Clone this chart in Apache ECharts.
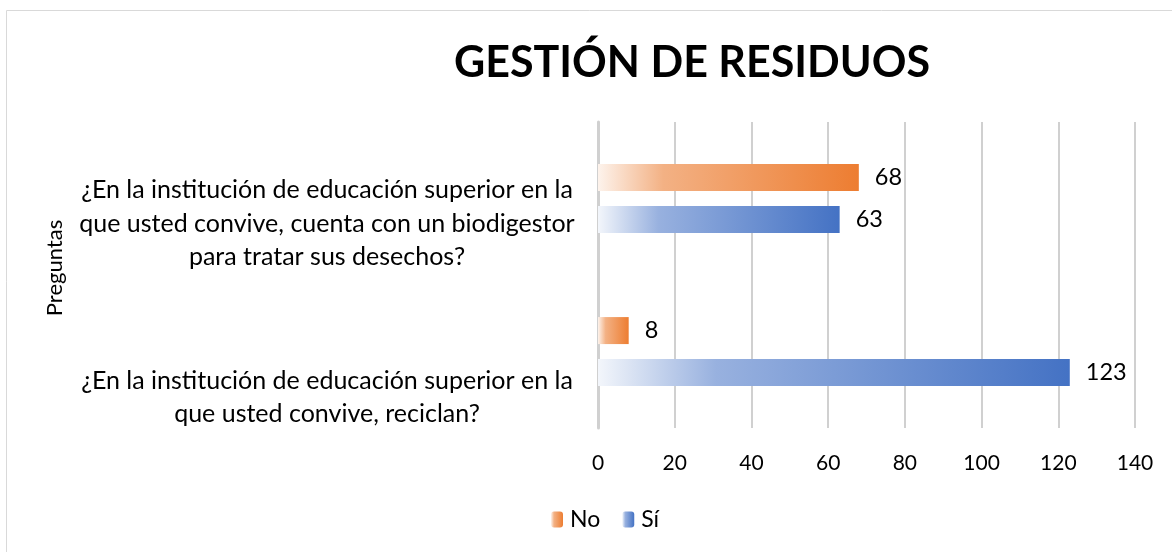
<!DOCTYPE html>
<html><head><meta charset="utf-8">
<script src="https://cdn.jsdelivr.net/npm/echarts@6/dist/echarts.min.js"></script>
<style>html,body{margin:0;padding:0;background:#fff}#c{width:1172px;height:552px}</style>
</head><body><div id="c"></div>
<script>
const categories = [
  "¿En la institución de educación superior en la\nque usted convive, cuenta con un biodigestor\npara tratar sus desechos?",
  "¿En la institución de educación superior en la\nque usted convive, reciclan?"
];
const seriesNames = ["No", "Sí"];
const noValues = [68, 8];
const siValues = [63, 123];
const xTicks = [0, 20, 40, 60, 80, 100, 120, 140];

const FONT = 'Lato';
function grad(c0, c1, c2) {
  return new echarts.graphic.LinearGradient(0, 0, 1, 0, [
    {offset: 0, color: c0}, {offset: 0.25, color: c1}, {offset: 1, color: c2}
  ]);
}
const orange = grad('#fdf3ec', '#f3b184', '#ed7d31');
const blue = grad('#f3f6fb', '#98b1df', '#4472c4');

const chart = echarts.init(document.getElementById('c'));
chart.setOption({
  animation: false,
  textStyle: {fontFamily: FONT},
  title: {
    text: 'GESTIÓN DE RESIDUOS', left: 687, top: 37, textAlign: 'center',
    textStyle: {fontFamily: FONT, fontWeight: 'bold', fontSize: 43, color: '#000'}
  },
  graphic: [{type: 'rect', shape: {x: 6.5, y: 10.5, width: 1180, height: 560}, style: {fill: 'none', stroke: '#d9d9d9', lineWidth: 1}, silent: true}],
  legend: {
    bottom: 16, left: 546, itemWidth: 12, itemHeight: 16, itemGap: 22,
    textStyle: {fontFamily: FONT, fontSize: 23, color: '#000', padding: [0, 0, 0, 2]},
    data: seriesNames
  },
  grid: {left: 598, right: 37, top: 122, bottom: 124, outerBoundsMode: 'none'},
  xAxis: {
    type: 'value', min: 0, max: 140, interval: 20,
    axisLine: {show: false}, axisTick: {show: false},
    splitLine: {lineStyle: {color: '#d0d0d0', width: 2}},
    axisLabel: {fontFamily: FONT, fontSize: 21, color: '#000', margin: 25,
      formatter: v => xTicks.includes(v) ? String(v) : ''}
  },
  yAxis: {
    type: 'category', inverse: true, data: categories,
    name: 'Preguntas', nameLocation: 'middle', nameGap: 532, nameRotate: 90,
    nameTextStyle: {fontFamily: FONT, fontSize: 22, color: '#000', padding: [0, 0, 0, 14]},
    axisLine: {show: true, lineStyle: {color: '#d0d0d0', width: 3}},
    axisTick: {show: false},
    axisLabel: {
      fontFamily: FONT, fontSize: 25, color: '#000', align: 'center', margin: 271,
      formatter: (v, i) => '{' + (i === 0 ? 's0' : 's1') + '| }\n' +
        v.split('\n').map(l => '{t|' + l + '}').join('\n'),
      rich: {
        s0: {height: 50, lineHeight: 50, fontSize: 10},
        s1: {height: 92, lineHeight: 92, fontSize: 10},
        t: {fontFamily: FONT, fontSize: 25, lineHeight: 33.5, color: '#000', align: 'center'}
      }
    }
  },
  series: [
    {name: 'No', type: 'bar', data: noValues, barWidth: 27, barGap: '55%',
     itemStyle: {color: orange},
     label: {show: true, position: 'right', distance: 16, fontFamily: FONT, fontSize: 23.5, color: '#000'}},
    {name: 'Sí', type: 'bar', data: siValues, barWidth: 27,
     itemStyle: {color: blue},
     label: {show: true, position: 'right', distance: 16, fontFamily: FONT, fontSize: 23.5, color: '#000'}}
  ]
});
</script></body></html>
